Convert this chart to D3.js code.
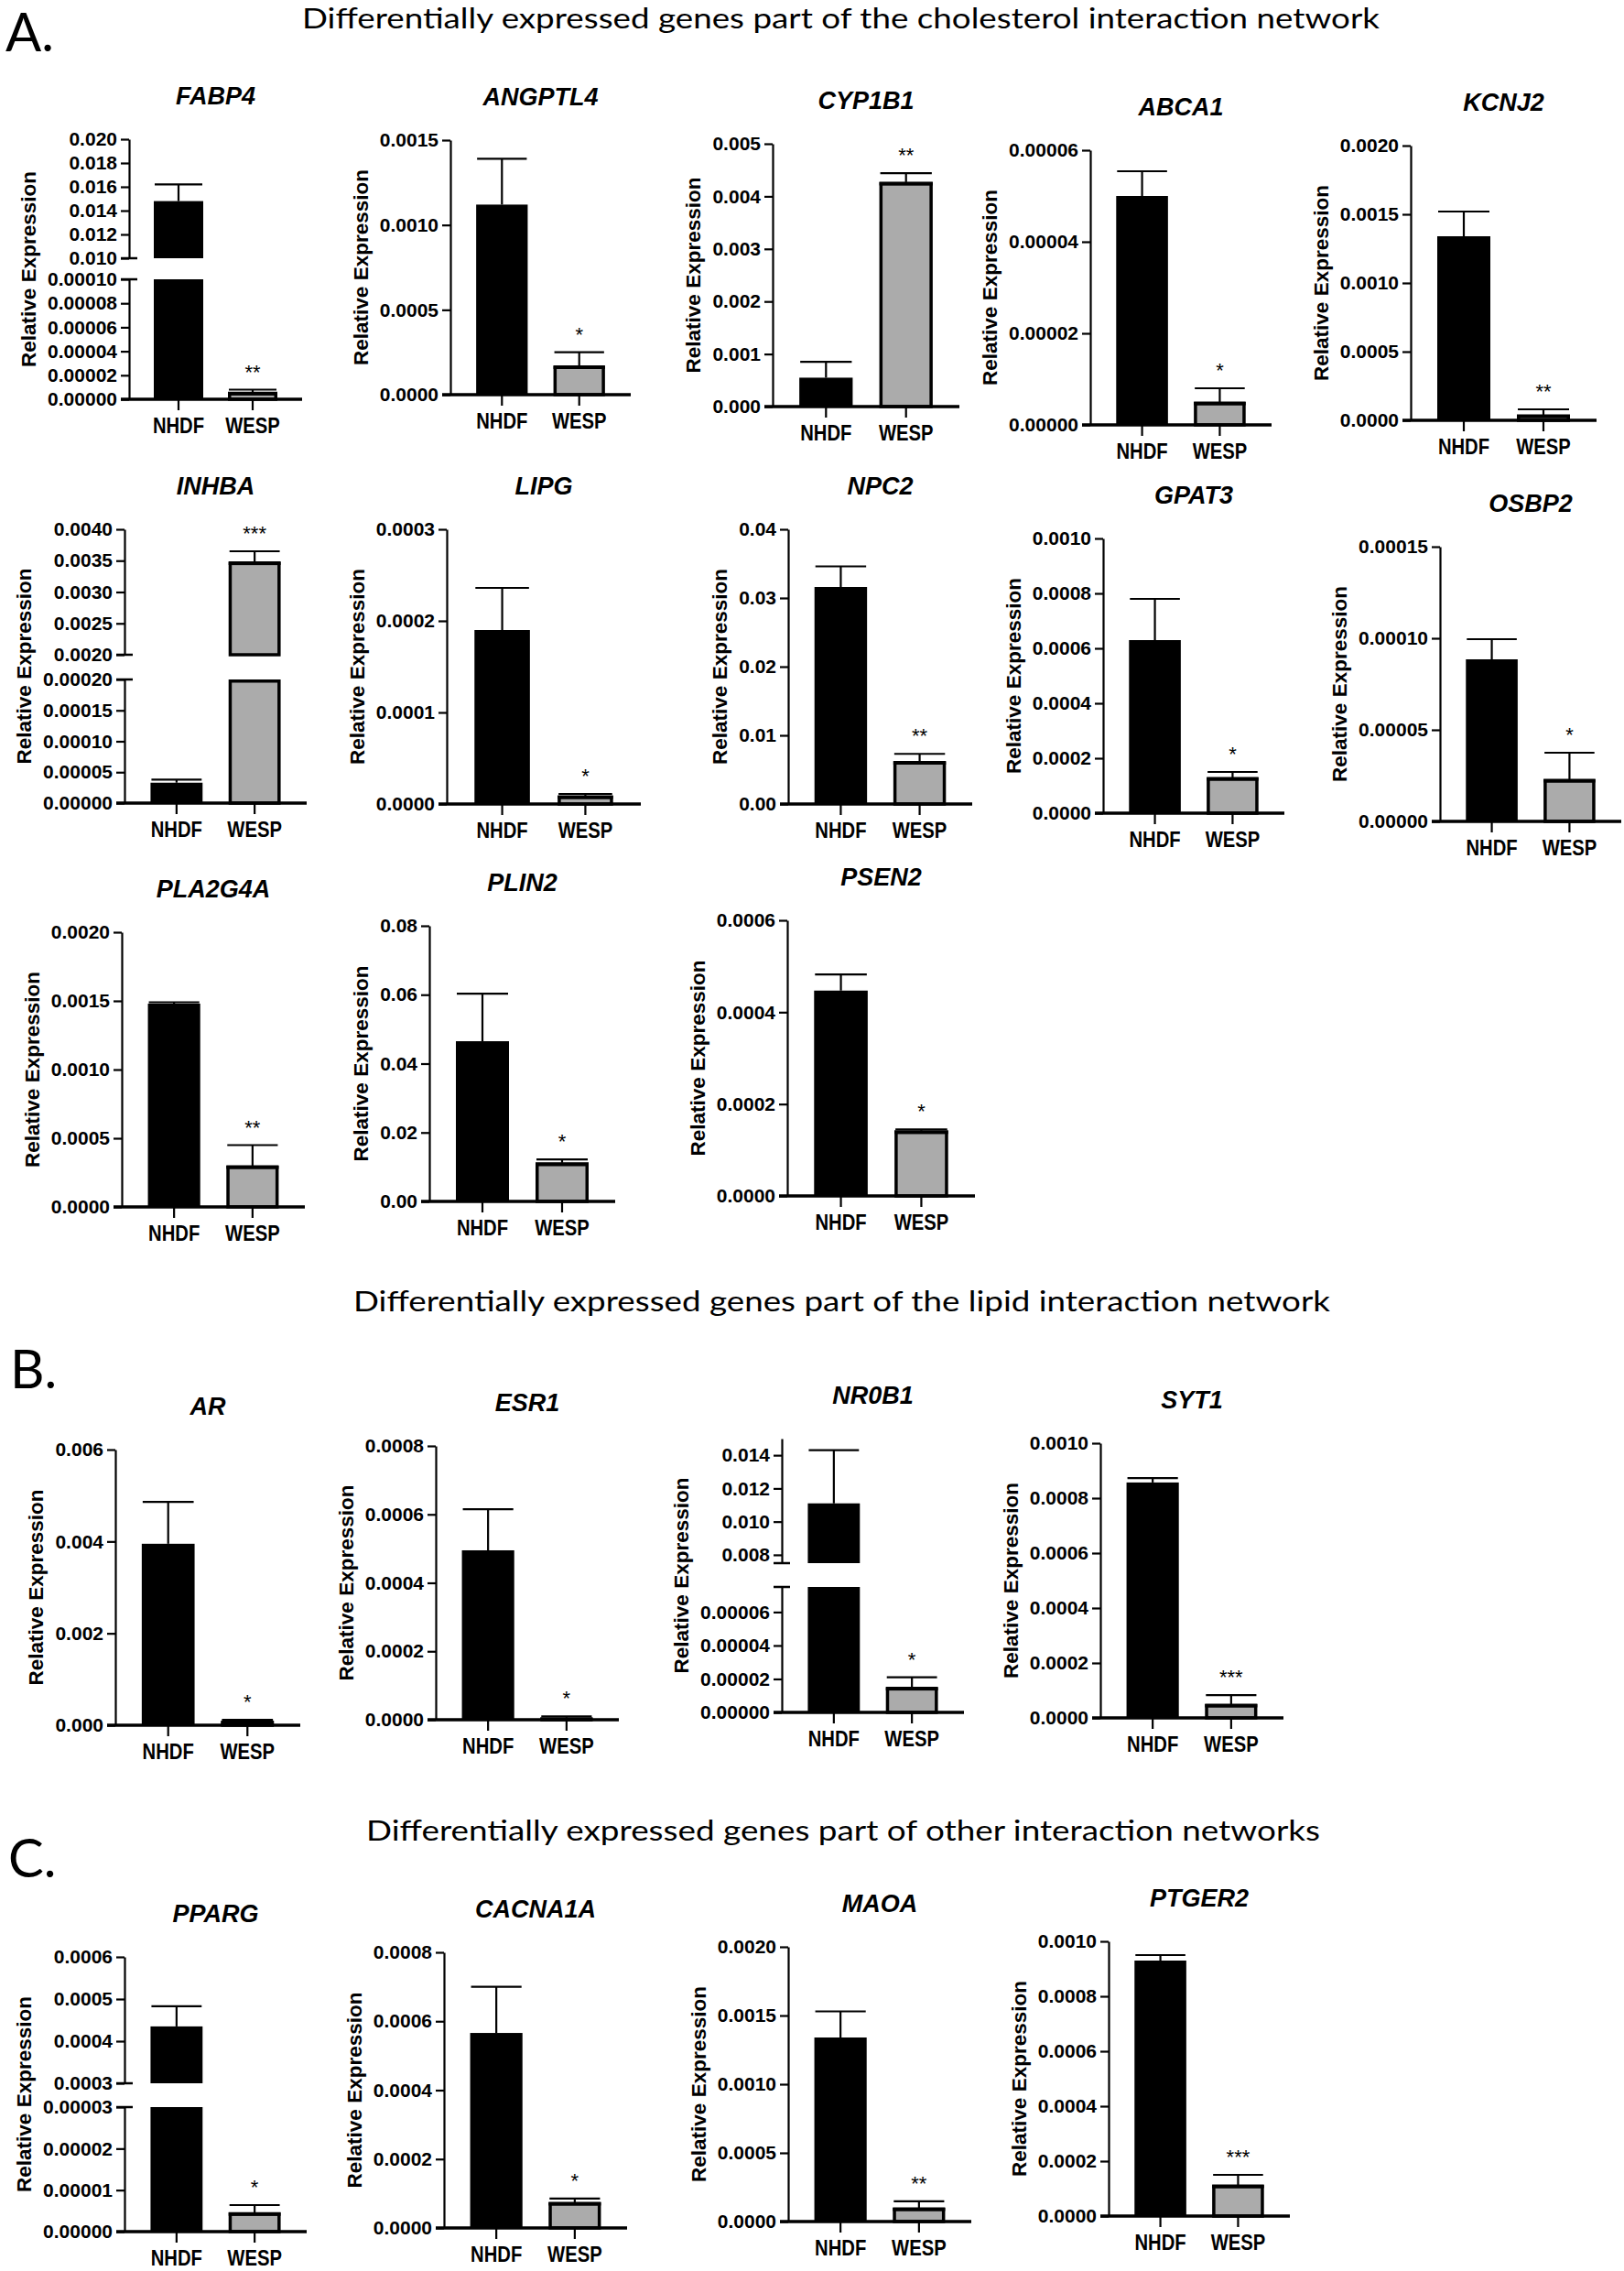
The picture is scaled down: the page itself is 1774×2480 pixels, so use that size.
<!DOCTYPE html>
<html><head><meta charset="utf-8">
<script src="https://cdn.jsdelivr.net/npm/d3@7"></script>
<style>body{margin:0;background:#fff} svg{display:block}</style>
</head><body>
<script>
// ---------------- DATA ----------------
const sectionLetters = ["A.", "B.", "C."];
const sectionTitles = [
  "Differentially expressed genes part of the cholesterol interaction network",
  "Differentially expressed genes part of the lipid interaction network",
  "Differentially expressed genes part of other interaction networks"
];
const groups = ["NHDF", "WESP"];
const genes = ["FABP4","ANGPTL4","CYP1B1","ABCA1","KCNJ2","INHBA","LIPG","NPC2","GPAT3","OSBP2",
               "PLA2G4A","PLIN2","PSEN2","AR","ESR1","NR0B1","SYT1","PPARG","CACNA1A","MAOA","PTGER2"];
const nhdfMean = [0.0148,0.00112,0.00055,0.000050,0.00134,0.000033,0.00019,0.0316,0.00063,0.0000885,
                  0.00148,0.0465,0.000447,0.00395,0.000495,0.0111,0.000857,0.000435,0.000566,0.00134,0.00093];
const nhdfSem  = [0.0014,0.00027,0.0003,0.0000054,0.00018,0.000005,0.000046,0.003,0.00015,0.000011,
                  0.00001,0.0138,0.000035,0.00091,0.00012,0.0032,0.000016,0.000048,0.000134,0.00019,0.00002];
const wespMean = [0.000006,0.00017,0.00427,0.000005,0.00004,0.00348,0.000009,0.0062,0.00013,0.000023,
                  0.0003,0.0112,0.000142,0.00009,0.000006,0.000015,0.00005,0.0000046,0.0000744,0.0001,0.000113];
const wespSem  = [0.000002,0.00008,0.00017,0.000003,0.00004,0.00017,0.000002,0.0011,0.00002,0.0000145,
                  0.00015,0.001,0.000003,0.00003,0.000004,0.000006,0.000033,0.0000018,0.000011,0.000047,0.000037];
const significance = ["**","*","**","*","**","***","*","**","*","*","**","*","*","*","*","*","***","*","*","**","***"];
const yTicks = [
  ["0.00000","0.00002","0.00004","0.00006","0.00008","0.00010"],
  ["0.0000","0.0005","0.0010","0.0015"],
  ["0.000","0.001","0.002","0.003","0.004","0.005"],
  ["0.00000","0.00002","0.00004","0.00006"],
  ["0.0000","0.0005","0.0010","0.0015","0.0020"],
  ["0.00000","0.00005","0.00010","0.00015","0.00020"],
  ["0.0000","0.0001","0.0002","0.0003"],
  ["0.00","0.01","0.02","0.03","0.04"],
  ["0.0000","0.0002","0.0004","0.0006","0.0008","0.0010"],
  ["0.00000","0.00005","0.00010","0.00015"],
  ["0.0000","0.0005","0.0010","0.0015","0.0020"],
  ["0.00","0.02","0.04","0.06","0.08"],
  ["0.0000","0.0002","0.0004","0.0006"],
  ["0.000","0.002","0.004","0.006"],
  ["0.0000","0.0002","0.0004","0.0006","0.0008"],
  ["0.00000","0.00002","0.00004","0.00006"],
  ["0.0000","0.0002","0.0004","0.0006","0.0008","0.0010"],
  ["0.00000","0.00001","0.00002","0.00003"],
  ["0.0000","0.0002","0.0004","0.0006","0.0008"],
  ["0.0000","0.0005","0.0010","0.0015","0.0020"],
  ["0.0000","0.0002","0.0004","0.0006","0.0008","0.0010"]
];
const yTicksUpper = {
  0: ["0.010","0.012","0.014","0.016","0.018","0.020"],
  5: ["0.0020","0.0025","0.0030","0.0035","0.0040"],
  15: ["0.008","0.010","0.012","0.014"],
  17: ["0.0003","0.0004","0.0005","0.0006"]
};
// broken axes: [lower segment max, upper segment min, upper segment max]
const yBreak = {0: [0.0001, 0.010, 0.020], 5: [0.0002, 0.002, 0.004], 15: [0.000075, 0.0075, 0.015], 17: [0.00003, 0.0003, 0.0006]};

// ---------------- LAYOUT ----------------
// [axisX, axisEndX, topY, baseY, upperSegBottomY, lowerSegTopY]
const panelLayout = [
  [141,330,152,436,282,305],[492,689,153,431],[844,1048,157,444],[1191,1389,164,464],[1541,1744,159,459],
  [136,335,578,877,715,742],[488,700,578,878],[861,1062,578,878],[1205,1403,588,888],[1573,1771,597,897],
  [133,333,1018,1318],[469,672,1011,1312],[860,1065,1005,1306],
  [126,328,1583,1884],[476,676,1579,1878],[854,1053,1571,1870,1707,1733],[1202,1402,1576,1876],
  [136,335,2137,2437,2275,2301],[485,685,2132,2433],[861,1061,2126,2426],[1211,1409,2120,2420]
];
// [letterX, letterBaseline, titleX, titleWidth, titleBaseline]
const sectionLayout = [[6,56,330,1177,31],[11,1516,386,1067,1432],[9,2050,400,1042,2010]];

const W = 1774, H = 2480;
const FONT = "'Liberation Sans', Arial, Helvetica, sans-serif";
const svg = d3.select("body").append("svg").attr("width", W).attr("height", H)
  .style("font-family", FONT);
svg.append("rect").attr("width", W).attr("height", H).attr("fill", "#fff");

sectionLetters.forEach((L, k) => {
  const s = sectionLayout[k];
  svg.append("text").attr("x", s[0]).attr("y", s[1]).text(L)
    .style("font-family", "Lato, 'Open Sans', sans-serif").style("font-size", "58px").attr("fill", "#000");
  svg.append("text").attr("x", s[2]).attr("y", s[4]).text(sectionTitles[k])
    .attr("textLength", s[3]).attr("lengthAdjust", "spacingAndGlyphs")
    .style("font-family", "Lato, 'Open Sans', sans-serif").style("font-size", "30px").attr("fill", "#000");
});

function styleAxis(sel, fs) {
  sel.selectAll("path.domain").attr("stroke", "#000").attr("stroke-width", 2.2);
  sel.selectAll(".tick line").attr("stroke", "#000").attr("stroke-width", 2.2);
  sel.selectAll(".tick text").attr("fill", "#000")
    .style("font-family", FONT).style("font-weight", "bold").style("font-size", fs + "px");
}

genes.forEach((gene, i) => {
  const [ax, ex, top, base, bU, bL] = panelLayout[i];
  const g = svg.append("g");
  const x = d3.scaleBand().domain(groups).range([ax, ex]).paddingInner(1/3).paddingOuter(1/3);
  const br = yBreak[i];
  const lowVals = yTicks[i].map(Number);
  const yLow = d3.scaleLinear().domain([0, br ? br[0] : lowVals[lowVals.length - 1]]).range([base, br ? bL : top]);
  const yUp = br ? d3.scaleLinear().domain([br[1], br[2]]).range([bU, top]) : null;
  const yOf = v => (br && v > br[0]) ? yUp(v) : yLow(v);

  // y axis (lower / main)
  const lowFmt = new Map(lowVals.map((v, k) => [v, yTicks[i][k]]));
  const axG = [];
  const aL = g.append("g").attr("transform", `translate(${ax},0)`)
    .call(d3.axisLeft(yLow).tickValues(lowVals).tickFormat(d => lowFmt.get(d)).tickSize(9).tickSizeOuter(0).tickPadding(4));
  styleAxis(aL, 21); axG.push(aL);
  if (br) {
    const upLabels = yTicksUpper[i], upVals = upLabels.map(Number);
    const upFmt = new Map(upVals.map((v, k) => [v, upLabels[k]]));
    const aU = g.append("g").attr("transform", `translate(${ax},0)`)
      .call(d3.axisLeft(yUp).tickValues(upVals).tickFormat(d => upFmt.get(d)).tickSize(9).tickSizeOuter(0).tickPadding(4));
    styleAxis(aU, 21); axG.push(aU);
    // break marks
    [yUp(br[1]), yLow(br[0])].forEach(yy => {
      g.append("line").attr("x1", ax - 9).attr("x2", ax + 9).attr("y1", yy).attr("y2", yy)
        .attr("stroke", "#000").attr("stroke-width", 2.5);
    });
  }

  // bars
  groups.forEach((grp, j) => {
    const v = j ? wespMean[i] : nhdfMean[i];
    const e = j ? wespSem[i] : nhdfSem[i];
    const bx = x(grp), bw = x.bandwidth(), cx = bx + bw / 2;
    const parts = (br && v > br[0]) ? [[yLow(0), yLow(br[0])], [yUp(br[1]), yUp(v)]] : [[yLow(0), yOf(v)]];
    // error bar (upward only)
    const et = yOf(v + e);
    g.append("line").attr("x1", cx).attr("x2", cx).attr("y1", yOf(v)).attr("y2", et)
      .attr("stroke", "#000").attr("stroke-width", 2.2);
    g.append("line").attr("x1", bx + 1).attr("x2", bx + bw - 1).attr("y1", et).attr("y2", et)
      .attr("stroke", "#000").attr("stroke-width", 2.2);
    parts.forEach(([y0, y1]) => {
      g.append("rect").attr("x", j ? bx + 1.75 : bx).attr("y", y1 + (j ? 1.75 : 0))
        .attr("width", j ? bw - 3.5 : bw).attr("height", Math.max(0, y0 - y1 - (j ? 1.75 : 0)))
        .attr("fill", j ? "#ababab" : "#000")
        .attr("stroke", j ? "#000" : "none").attr("stroke-width", 3.5);
    });
    if (j) {
      g.append("line").attr("x1", bx).attr("x2", bx + bw).attr("y1", yOf(v) + 1.5).attr("y2", yOf(v) + 1.5)
        .attr("stroke", "#000").attr("stroke-width", 4);
      g.append("text").attr("x", cx).attr("y", et - 12).attr("text-anchor", "middle")
        .style("font-size", "22px").attr("fill", "#000").text(significance[i]);
    }
  });

  // x axis
  g.append("line").attr("x1", ax - 9).attr("x2", ex).attr("y1", base).attr("y2", base)
    .attr("stroke", "#000").attr("stroke-width", 3.5);
  const xa = g.append("g").attr("transform", `translate(0,${base})`)
    .call(d3.axisBottom(x).tickSize(12).tickSizeOuter(0).tickPadding(9));
  xa.select("path.domain").remove();
  styleAxis(xa, 23);
  xa.selectAll(".tick text").attr("transform", "scale(0.88,1)");

  // y label
  const minX = d3.min(axG, a => a.node().getBBox().x) + ax;
  g.append("text").attr("text-anchor", "middle")
    .attr("transform", `translate(${minX - 13},${(top + base) / 2}) rotate(-90)`)
    .style("font-size", "22.5px").style("font-weight", "bold").attr("fill", "#000")
    .text("Relative Expression");

  // gene title
  g.append("text").attr("x", (ax + ex) / 2).attr("y", top - 38).attr("text-anchor", "middle")
    .style("font-size", "27px").style("font-weight", "bold").style("font-style", "italic")
    .attr("fill", "#000").text(gene);
});
</script>
</body></html>
